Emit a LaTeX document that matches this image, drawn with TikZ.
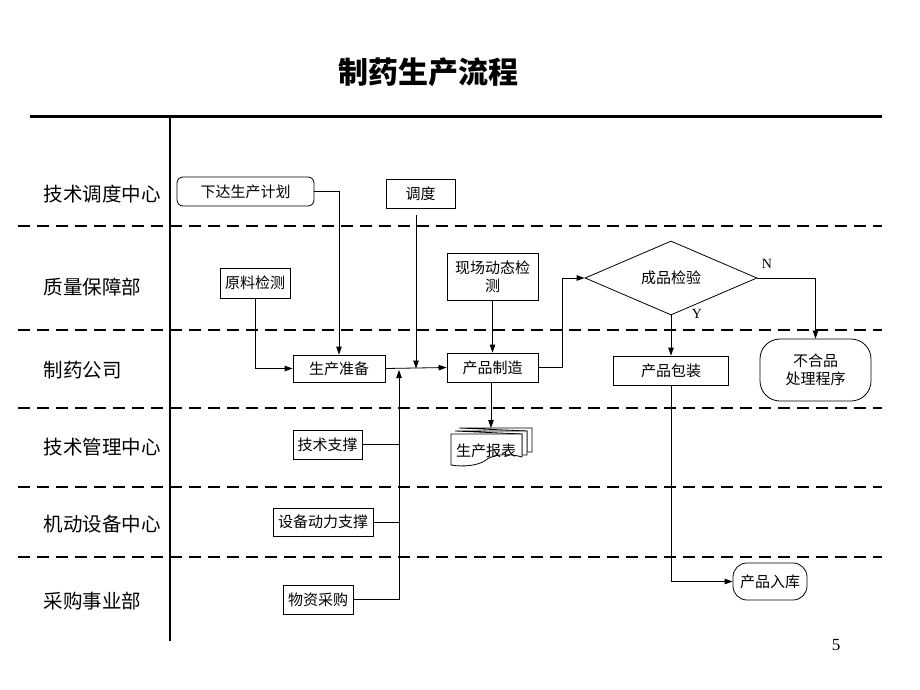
\documentclass[tikz,border=0pt]{standalone}
\usepackage{fontspec}
\setmainfont{Liberation Serif}
\newfontfamily\cjk{Noto Sans CJK SC}
\usetikzlibrary{shapes.geometric,arrows.meta}
\begin{document}
\begin{tikzpicture}[x=1pt,y=-1pt,
  lane/.style={anchor=west,font=\cjk\fontsize{19.5}{22}\selectfont},
  box/.style={draw,line width=0.8pt,inner sep=0pt,font=\cjk\fontsize{15}{18}\selectfont,align=center,fill=white},
  sep/.style={line width=1.1pt,dash pattern=on 12pt off 7pt},
  arr/.style={line width=0.8pt,-{Triangle[length=8pt,width=5.5pt]}},
  ln/.style={line width=0.8pt}]
\useasboundingbox (0,0) rectangle (920,690);
% title
\node[font=\cjk\bfseries\fontsize{30}{34}\selectfont] (title) at (428,72) {制药生产流程};
% frame
\draw[line width=3pt] (30,117) -- (882,117);
\draw[line width=1.5pt] (170,117) -- (170,641);
\foreach \yy in {226,330,408,487,557} \draw[sep] (18,\yy) -- (882,\yy);
% lanes
\node[lane] (l1) at (40,194) {技术调度中心};
\node[lane] (l2) at (40,287) {质量保障部};
\node[lane] (l3) at (40,370) {制药公司};
\node[lane] (l4) at (40,447) {技术管理中心};
\node[lane] (l5) at (40,524) {机动设备中心};
\node[lane] (l6) at (40,601) {采购事业部};
% nodes
\node[box,rounded corners=6pt,minimum width=137pt,minimum height=29pt] (plan) at (245.5,191.5) {下达生产计划};
\node[box,minimum width=69pt,minimum height=29pt] (dd) at (420.5,193.5) {调度};
\node[box,minimum width=70pt,minimum height=30pt] (raw) at (255,283) {原料检测};
\node[box,minimum width=91pt,minimum height=47pt] (site) at (492.5,276.5) {现场动态检\\测};
\node[box,shape=diamond,minimum width=172pt,minimum height=46pt] (chk) at (671,278) {成品检验};
\node[box,minimum width=92pt,minimum height=27pt] (prep) at (339,368.5) {生产准备};
\node[box,minimum width=91pt,minimum height=29pt] (make) at (492.5,367.5) {产品制造};
\node[box,minimum width=115pt,minimum height=29pt] (pack) at (671,370.5) {产品包装};
\node[box,rounded corners=20pt,minimum width=111pt,minimum height=62pt] (rej) at (815.5,370) {不合品\\处理程序};
\node[box,minimum width=69pt,minimum height=29pt] (tech) at (327.5,444.5) {技术支撑};
\node[box,minimum width=100pt,minimum height=28pt] (equip) at (323,522) {设备动力支撑};
\node[box,minimum width=70pt,minimum height=29pt] (buy) at (318,599.5) {物资采购};
\node[box,rounded corners=14pt,minimum width=74pt,minimum height=37pt] (store) at (770,581.5) {产品入库};
% connector into report drawn first
\coordinate (reptop) at (491,428);
\draw[arr] (make.south -| reptop) -- (reptop);
% report (multi-document)
\draw[ln,fill=white] (459,428) -- (532,428) -- (532,452) -- (527,452) -- (527,431) -- cycle;
\draw[ln,fill=white] (455,431) -- (527,431) -- (527,455) -- (522,455) -- (522,434) -- cycle;
\draw[ln,fill=white] (451,434) -- (522,434) -- (522,457) .. controls (505,452) and (490,456) .. (486,460) .. controls (478,466) and (462,467) .. (451,465) -- cycle;
\node[font=\cjk\fontsize{15}{18}\selectfont] (rep) at (486,451) {生产报表};
% labels
\node[font=\fontsize{14}{16}\selectfont] (nl) at (767,264) {N};
\node[font=\fontsize{14}{16}\selectfont] (yl) at (697,314) {Y};
\node[font=\fontsize{17}{20}\selectfont] (pg) at (836,645) {5};
% connectors
\coordinate (j1) at (416,368.5);
\coordinate (j2) at (399,370);
\draw[arr] (plan.east) -| (prep.north);
\draw[arr] (raw.south) |- (prep.west);
\draw[arr] (prep.east) -- (make.west);
\draw[arr] (j1 |- dd.south) ++(0,7) -- (j1);
\draw[arr] (buy.east) -| (j2);
\draw[ln] (tech.east) -- (tech.east -| j2);
\draw[ln] (equip.east) -- (equip.east -| j2);
\draw[arr] (site.south) -- (make.north);
\draw[arr] (make.east) -- ++(24,0) |- (chk.west);
\draw[arr] (chk.south) -- (pack.north);
\draw[arr] (chk.east) -| (rej.north);
\draw[arr] (pack.south) |- (store.west);
\end{tikzpicture}
\end{document}
